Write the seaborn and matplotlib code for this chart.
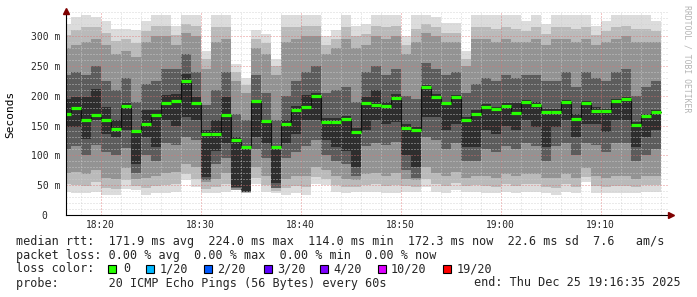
import numpy as np
import matplotlib
matplotlib.use("Agg")
import matplotlib.pyplot as plt
from matplotlib.patches import Rectangle
import seaborn as sns

# ---------------- data (ms) ----------------
# one column per minute, column start in minutes after 18:00 (18:16 ... 19:15)
minute_start = list(range(16, 76))

median = [170, 179, 159, 167, 159, 144, 183.5, 141, 153, 168, 188.5, 191, 224, 188, 136,
          135.4, 167, 125, 114, 192, 158, 114, 151.7, 176, 181, 200, 155.5, 155.5, 161, 138.8,
          187, 184, 182, 197, 146.6, 143, 214, 198.6, 187, 198, 159, 170, 180.7, 177, 183.5,
          171, 189.6, 185, 173, 173, 189.6, 161, 188.5, 174.5, 174.5, 191, 195, 151, 165.6, 172.3]

outer_lo = [39, 36, 36, 39, 33, 33, 44, 41, 33, 36, 36, 39, 58, 47, 36,
            36, 39, 44, 37, 52, 39, 36, 33, 36, 33, 52, 50, 39, 36, 39,
            39, 39, 36, 36, 39, 39, 47, 39, 36, 41, 39, 39, 36, 36, 39,
            36, 39, 39, 36, 33, 39, 36, 55, 37, 36, 36, 37, 36, 39, 39]
outer_hi = [321, 332, 335, 332, 326, 312, 312, 310, 326, 335, 335, 318, 335, 335, 276,
            335, 335, 254, 229, 310, 304, 262, 335, 335, 335, 335, 301, 310, 335, 318,
            321, 335, 335, 335, 301, 335, 335, 332, 323, 323, 275, 335, 335, 335, 335,
            335, 326, 335, 321, 335, 335, 335, 335, 318, 325, 335, 335, 335, 335, 326]

light_lo = [52, 50, 48, 55, 45, 44, 58, 48, 45, 48, 50, 52, 68, 60, 44,
            46, 52, 43, 37, 62, 50, 40, 45, 48, 46, 64, 60, 50, 46, 47,
            50, 52, 48, 50, 48, 47, 60, 52, 48, 54, 48, 50, 48, 46, 52,
            48, 52, 52, 46, 45, 52, 46, 64, 48, 46, 48, 48, 46, 50, 50]
light_hi = [302, 310, 315, 315, 306, 292, 295, 288, 308, 318, 318, 302, 320, 318, 262,
            315, 315, 240, 218, 296, 288, 250, 315, 315, 318, 318, 286, 296, 315, 300,
            304, 318, 315, 318, 286, 312, 320, 316, 306, 306, 262, 315, 315, 312, 315,
            312, 308, 315, 303, 315, 315, 312, 315, 302, 308, 315, 318, 312, 312, 308]

mid_lo = [70, 72, 68, 75, 62, 60, 78, 60, 62, 65, 70, 72, 85, 80, 55,
          60, 70, 42, 38, 80, 65, 45, 60, 65, 65, 80, 75, 65, 60, 58,
          68, 70, 65, 70, 60, 58, 80, 70, 65, 72, 62, 65, 65, 62, 68,
          65, 68, 68, 62, 62, 68, 62, 78, 65, 62, 65, 65, 60, 65, 65]
mid_hi = [280, 285, 290, 295, 285, 270, 275, 265, 290, 300, 300, 285, 305, 300, 245,
          290, 295, 225, 205, 280, 270, 235, 290, 295, 300, 300, 270, 280, 295, 280,
          285, 300, 295, 300, 270, 290, 305, 300, 290, 290, 250, 295, 295, 290, 295,
          290, 290, 295, 285, 295, 295, 290, 295, 285, 290, 295, 300, 290, 290, 290]

dark_lo = [110, 115, 100, 118, 105, 100, 112, 70, 100, 90, 120, 118, 130, 125, 58,
           85, 95, 45, 39, 110, 95, 45, 95, 105, 115, 125, 100, 90, 85, 65,
           115, 120, 118, 122, 75, 62, 130, 125, 110, 120, 90, 90, 110, 105, 115,
           110, 120, 115, 90, 115, 120, 100, 120, 118, 105, 120, 120, 90, 100, 110]
dark_hi = [235, 240, 235, 250, 225, 210, 230, 190, 220, 225, 245, 245, 270, 240, 185,
           210, 240, 170, 160, 235, 205, 160, 200, 225, 240, 250, 205, 210, 215, 190,
           240, 250, 235, 245, 200, 195, 255, 245, 235, 240, 205, 220, 230, 225, 235,
           230, 235, 235, 225, 225, 240, 215, 240, 230, 225, 240, 245, 200, 215, 225]

core_lo = [148, 147, 128, 159, 136, 131, 142, 86, 131, 114, 159, 150, 164, 159, 64,
           108, 120, 47, 39, 131, 120, 53, 120, 136, 159, 159, 125, 114, 108, 80,
           142, 159, 153, 156, 100, 80, 164, 164, 142, 153, 114, 114, 142, 136, 150,
           142, 159, 147, 114, 147, 159, 131, 153, 153, 139, 159, 159, 114, 131, 142]
core_hi = [195, 198, 198, 212, 181, 159, 187, 142, 176, 176, 201, 203, 237, 198, 142,
           159, 198, 131, 114, 192, 159, 114, 160, 182, 201, 205, 162, 162, 166, 145,
           198, 209, 190, 203, 152, 148, 218, 203, 190, 201, 165, 176, 186, 181, 188,
           187, 193, 190, 178, 178, 193, 170, 192, 181, 178, 195, 198, 156, 170, 176]

x_tick_pos = [20, 30, 40, 50, 60, 70]
x_tick_labels = ["18:20", "18:30", "18:40", "18:50", "19:00", "19:10"]
y_tick_pos = [0, 50, 100, 150, 200, 250, 300]
y_tick_labels = ["0  ", "50 m", "100 m", "150 m", "200 m", "250 m", "300 m"]

rtt_line = "median rtt:  171.9 ms avg  224.0 ms max  114.0 ms min  172.3 ms now  22.6 ms sd  7.6   am/s"
loss_line = "packet loss: 0.00 % avg  0.00 % max  0.00 % min  0.00 % now"
probe_line = "probe:       20 ICMP Echo Pings (56 Bytes) every 60s"
end_line = "end: Thu Dec 25 19:16:35 2025"
loss_labels = ["0", "1/20", "2/20", "3/20", "4/20", "10/20", "19/20"]
loss_colors = ["#26ff00", "#00b8ff", "#0059ff", "#5e00ff", "#7e00ff", "#dd00ff", "#ff0000"]

# ---------------- style ----------------
sns.set_style("white")
plt.rcParams["font.family"] = ["DejaVu Sans Mono"]
plt.rcParams["lines.scale_dashes"] = False

W, H = 697, 297
fig = plt.figure(figsize=(W / 100, H / 100), dpi=100)
fig.patch.set_facecolor("white")

ax_left, ax_right, ax_top, ax_bottom = 66, 668, 10.5, 214.8
ax = fig.add_axes([ax_left / W, (H - ax_bottom) / H, (ax_right - ax_left) / W, (ax_bottom - ax_top) / H])
ax.set_facecolor("white")

xs = np.array(minute_start, dtype=float)
shades = ["#dcdcdc", "#bababa", "#939393", "#5c5c5c", "#2e2e2e"]
bands = [(outer_lo, outer_hi), (light_lo, light_hi), (mid_lo, mid_hi),
         (dark_lo, dark_hi), (core_lo, core_hi)]
for (lo, hi), c in zip(bands, shades):
    lo = np.array(lo, dtype=float)
    hi = np.array(hi, dtype=float)
    ax.bar(xs, hi - lo, bottom=lo, width=1.0, align="edge", color=c, linewidth=0,
           antialiased=False, zorder=1)

# median: thin dark step line + green loss-colored segments
step_x = list(xs) + [xs[-1] + 1]
step_y = list(median) + [median[-1]]
sns.lineplot(x=step_x, y=step_y, drawstyle="steps-post", color="#101010", lw=0.8,
             estimator=None, sort=False, ax=ax, zorder=4, legend=False)
ax.hlines(median, xs, xs + 1, colors=loss_colors[0], lw=2.3, zorder=5, capstyle="butt")

# axes limits (pixel-calibrated)
ax.set_xlim(16.53, 76.73)
ax.set_ylim(0, 343.2)

# grid
ax.set_xticks(x_tick_pos)
ax.set_xticklabels(x_tick_labels, fontsize=6.9)
ax.set_xticks(np.arange(18, 77, 2), minor=True)
ax.set_yticks(y_tick_pos)
ax.set_yticklabels(y_tick_labels, fontsize=7)
ax.set_yticks(np.arange(0, 343, 10), minor=True)
ax.tick_params(which="both", length=0)
ax.tick_params(axis="x", pad=4)
ax.tick_params(axis="y", pad=4.3)
ax.set_axisbelow(False)
ax.grid(which="minor", color="#cfcfcf", linestyle=(0, (0.72, 1.44)), linewidth=0.72, alpha=0.85)
ax.grid(which="major", color="#e07070", linestyle=(0, (0.72, 1.44)), linewidth=0.72, alpha=0.8)
ax.set_xlabel("")
ax.set_ylabel("")

for s in ["top", "right"]:
    ax.spines[s].set_visible(False)
for s in ["left", "bottom"]:
    ax.spines[s].set_color("black")
    ax.spines[s].set_linewidth(0.8)
    ax.spines[s].set_zorder(6)

# arrows
ax.plot([0], [1], marker="^", ms=4.2, color="#7f0000", transform=ax.transAxes, clip_on=False, zorder=7)
ax.plot([1.005], [0], marker=">", ms=4.2, color="#7f0000", transform=ax.transAxes, clip_on=False, zorder=7)

# labels
fig.text(10 / W, 1 - 114 / H, "Seconds", rotation=90, va="center", ha="center", fontsize=8, color="black")
fig.text(687 / W, 1 - 5 / H, "RRDTOOL / TOBI OETIKER", rotation=270, va="top", ha="center",
         fontsize=5.9, color="#b4b4b4")

fs = 8.5
fig.text(16 / W, 1 - 244.5 / H, rtt_line, fontsize=fs, va="baseline", ha="left")
fig.text(16 / W, 1 - 258.5 / H, loss_line, fontsize=fs, va="baseline", ha="left")
fig.text(16 / W, 1 - 272.5 / H, "loss color:", fontsize=fs, va="baseline", ha="left")
fig.text(16 / W, 1 - 286.5 / H, probe_line, fontsize=fs, va="baseline", ha="left")
fig.text(681 / W, 1 - 286.5 / H, end_line, fontsize=fs, va="baseline", ha="right")

box_x = [108, 146, 204, 264, 320, 378, 443]
lab_x = [123, 160, 217, 277, 333, 391, 457]
for bx, lx, lab, col in zip(box_x, lab_x, loss_labels, loss_colors):
    fig.add_artist(Rectangle((bx / W, 1 - 272.5 / H), 7.5 / W, 7.5 / H, transform=fig.transFigure,
                             facecolor=col, edgecolor="black", linewidth=0.8))
    fig.text(lx / W, 1 - 272.5 / H, lab, fontsize=fs, va="baseline", ha="left")

fig.savefig("out.png", dpi=100)
